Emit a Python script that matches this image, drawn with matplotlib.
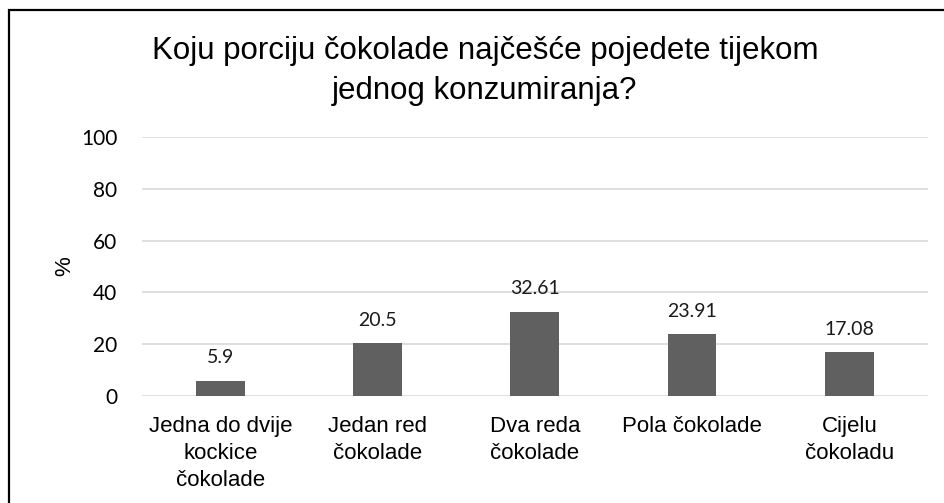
#!/usr/bin/env python
import matplotlib
matplotlib.use('Agg')
import matplotlib.pyplot as plt
from matplotlib.patches import Rectangle

title = 'Koju porciju čokolade najčešće pojedete tijekom\njednog konzumiranja?'
categories = ['Jedna do dvije\nkockice\nčokolade', 'Jedan red\nčokolade',
              'Dva reda\nčokolade', 'Pola čokolade', 'Cijelu\nčokoladu']
values = [5.9, 20.5, 32.61, 23.91, 17.08]
value_labels = ['5.9', '20.5', '32.61', '23.91', '17.08']
yticks = [0, 20, 40, 60, 80, 100]

fig = plt.figure(figsize=(9.45, 5.03), dpi=100)
ax = fig.add_axes([0.150, 0.2127, 0.832, 0.5149])

x = range(len(categories))
ax.bar(x, values, width=0.31, color='#606060', zorder=3)
for xi, v, lab in zip(x, values, value_labels):
    ax.text(xi, v + 5.5, lab, ha='center', va='bottom', fontsize=14,
            family='Lato', color='#1a1a1a')

ax.set_xlim(-0.5, len(categories) - 0.5)
ax.set_ylim(0, 100)
ax.set_yticks(yticks)
ax.set_yticklabels([str(t) for t in yticks], family='Lato', fontsize=15)
ax.set_xticks(list(x))
ax.set_xticklabels(categories, family='Liberation Sans', fontsize=16,
                   linespacing=1.37)
ax.tick_params(length=0)
ax.tick_params(axis='x', pad=14.5)
ax.tick_params(axis='y', pad=17.5)
ax.grid(axis='y', color='#d9d9d9', linewidth=1.2, zorder=0)
for s in ax.spines.values():
    s.set_visible(False)
ax.set_ylabel('%', family='Liberation Sans', fontsize=16, labelpad=4)

fig.text(0.513, 0.859, title, ha='center', va='center', fontsize=22.5,
         family='Liberation Sans', linespacing=1.4)

# outer chart border (right and bottom run off the image)
fig.patches.append(Rectangle((9 / 945, -0.05), 1.1, 1 - 10 / 503 + 0.05,
                             transform=fig.transFigure, fill=False,
                             edgecolor='black', linewidth=1.6))

fig.savefig('out.png', dpi=100, facecolor='white')
